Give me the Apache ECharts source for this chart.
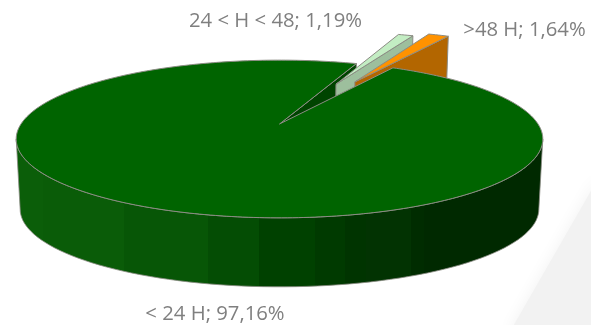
<!DOCTYPE html>
<html>
<head>
<meta charset="utf-8">
<style>html,body{margin:0;padding:0;background:#fff}#chart{width:591px;height:325px}</style>
<script src="https://cdn.jsdelivr.net/npm/echarts@6/dist/echarts.min.js"></script>
</head>
<body>
<div id="chart"></div>
<script>
// Share of cases by elapsed time
const categories = ['< 24 H', '24 < H < 48', '>48 H'];
const shares = [97.16, 1.19, 1.64];
const pulledOut = [0, 0.63, 0.70];

const topColors = ['#006400', '#c3edc3', '#ff9200'];
const cutColors = ['#004400', '#9dbf9d', '#b36600'];
const labelAnchors = [[215, 314], [275.5, 21], [524.5, 30]];

// Disc geometry in screen pixels, with a simple perspective term
const CX = 279.5, CY = 124, RX = 258.5, RY = 76, PERSP = 0.19, DROP = 70.4, SHRINK = 0.015;
const START_DEG = 59.3;

const DEG = Math.PI / 180;
const total = shares.reduce((a, b) => a + b, 0);

function project(u, v, z) {
  const s = 1 / (1 + PERSP * v) * (1 - SHRINK * z);
  return [CX + RX * u * s, CY + DROP * z - RY * v * s];
}

// Start and end angles per slice, running clockwise
function sliceAngles(i) {
  const before = shares.slice(0, i).reduce((a, b) => a + b, 0);
  return [START_DEG - 360 * before / total, START_DEG - 360 * (before + shares[i]) / total];
}

function slicePieces(i) {
  const [a0, a1] = sliceAngles(i);
  const mid = (a0 + a1) / 2 * DEG;
  const ox = pulledOut[i] * Math.cos(mid), oy = pulledOut[i] * Math.sin(mid);
  const at = (deg, r, z) => project(ox + r * Math.cos(deg * DEG), oy + r * Math.sin(deg * DEG), z);
  const rim = [];
  const steps = Math.max(4, Math.ceil(Math.abs(a1 - a0)));
  for (let k = 0; k <= steps; k++) rim.push(at(a0 + (a1 - a0) * k / steps, 1, 0));
  return { a0, a1, at, rim };
}

// Stepped shading along the front of the disc
const wallBands = [
  [0.000, '#0b5e09'], [0.050, '#0a5c08'], [0.204, '#075606'], [0.365, '#044d04'],
  [0.462, '#004100'], [0.567, '#003a00'], [0.625, '#003400'], [0.664, '#023302'],
  [0.750, '#002c00'], [0.775, '#002900']
];
function wallFill(x0, x1) {
  const colorStops = [];
  wallBands.forEach((b, i) => {
    const end = i + 1 < wallBands.length ? wallBands[i + 1][0] : 1;
    colorStops.push({ offset: b[0], color: b[1] }, { offset: end, color: b[1] });
  });
  return { type: 'linear', global: true, x: x0, y: 0, x2: x1, y2: 0, colorStops };
}

const EDGE = { stroke: '#8c8c84', lineWidth: 1, lineJoin: 'round' };

function polygon(points, fill, style) {
  return { type: 'polygon', shape: { points }, style: Object.assign({ fill }, EDGE, style || {}) };
}

function label(i) {
  const text = categories[i] + '; ' + shares[i].toFixed(2).replace('.', ',') + '%';
  return {
    type: 'text',
    style: {
      x: labelAnchors[i][0], y: labelAnchors[i][1], text,
      fill: '#7f7f7f', font: '20.3px "Open Sans"', align: 'center', verticalAlign: 'middle'
    }
  };
}

function renderItem(params, api) {
  const layer = api.value(0);
  const children = [];
  if (layer === 0) {
    // Front wall of the large slice and its exposed cut face
    const main = slicePieces(0);
    const left = 191, right = 349, wall = [], low = [];
    for (let d = left; d <= right; d += 2) {
      wall.push(main.at(d, 1, 0));
      low.unshift(main.at(d, 1, 1));
    }
    const outline = wall.concat(low);
    children.push(polygon(outline, wallFill(outline[0][0], wall[wall.length - 1][0]), { lineWidth: 0.8 }));
    children.push(polygon([main.at(0, 0, 0), main.at(main.a1, 1, 0), main.at(main.a1, 1, 1), main.at(0, 0, 1)], cutColors[0]));
  } else if (layer === 1 || layer === 2) {
    // Pulled-out slice: visible cut face, then its top
    const p = slicePieces(layer);
    children.push(polygon([p.at(0, 0, 0), p.at(p.a1, 1, 0), p.at(p.a1, 1, 1), p.at(0, 0, 1)], cutColors[layer]));
    children.push(polygon([p.at(0, 0, 0)].concat(p.rim), topColors[layer]));
  } else {
    // Top of the large slice, painted last so it covers what lies behind it
    const main = slicePieces(0);
    children.push(polygon([main.at(0, 0, 0)].concat(main.rim), topColors[0]));
    categories.forEach((_, i) => children.push(label(i)));
  }
  return { type: 'group', children };
}

const chart = echarts.init(document.getElementById('chart'), null, { renderer: 'canvas' });
chart.setOption({
  animation: false,
  backgroundColor: '#ffffff',
  graphic: [{
    type: 'polygon',
    z: -1,
    shape: { points: [[508, 335], [600, 175], [600, 335]] },
    style: { fill: '#f2f2f2', shadowBlur: 16, shadowColor: '#f2f2f2' },
    silent: true
  }],
  series: [{
    type: 'custom',
    coordinateSystem: 'none',
    clip: false,
    silent: true,
    data: [[0], [1], [2], [3]],
    renderItem
  }]
});
</script>
</body>
</html>
